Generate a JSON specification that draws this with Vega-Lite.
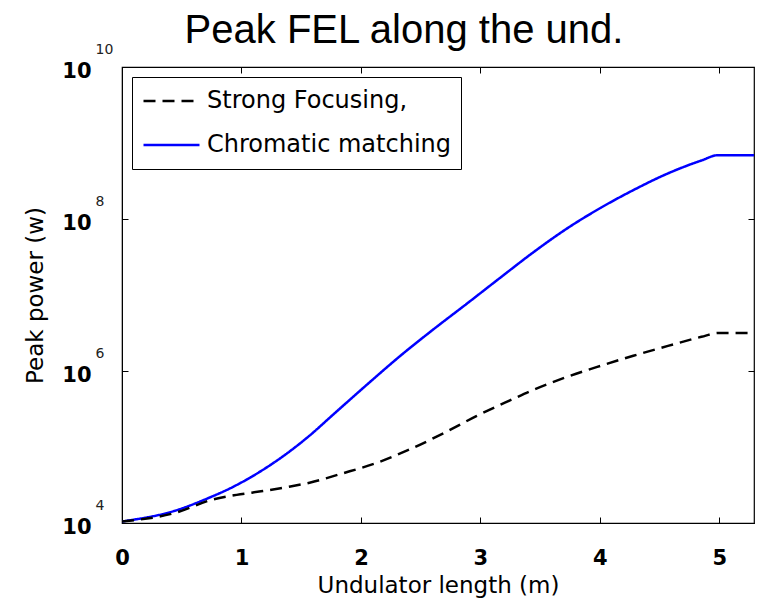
{
  "$schema": "https://vega.github.io/schema/vega-lite/v6.json",
  "width": 632,
  "height": 456,
  "autosize": {"type": "none"},
  "padding": {"left": 122, "top": 67, "right": 4, "bottom": 78},
  "background": "white",
  "title": {"text": "Peak FEL along the und.", "font": "Liberation Sans", "fontSize": 40, "fontWeight": "normal", "anchor": "middle", "dx": -34, "offset": -9, "color": "black"},
  "config": {
    "view": {"stroke": "black", "strokeWidth": 1.2},
    "axis": {"grid": false, "domainColor": "black", "tickColor": "black", "labelColor": "black", "titleColor": "black", "labelFont": "DejaVu Sans", "titleFont": "DejaVu Sans", "labelFlush": false, "labelOverlap": false}
  },
  "data": {"values": [
    {"series": "Chromatic matching", "length": 0, "power": 10471},
    {"series": "Chromatic matching", "length": 0.46, "power": 14791},
    {"series": "Chromatic matching", "length": 0.68, "power": 19953},
    {"series": "Chromatic matching", "length": 0.96, "power": 31623},
    {"series": "Chromatic matching", "length": 1.18, "power": 50119},
    {"series": "Chromatic matching", "length": 1.41, "power": 89125},
    {"series": "Chromatic matching", "length": 1.57, "power": 141254},
    {"series": "Chromatic matching", "length": 1.77, "power": 269153},
    {"series": "Chromatic matching", "length": 2.05, "power": 660693},
    {"series": "Chromatic matching", "length": 2.33, "power": 1584893},
    {"series": "Chromatic matching", "length": 2.6, "power": 3467369},
    {"series": "Chromatic matching", "length": 2.89, "power": 7762471},
    {"series": "Chromatic matching", "length": 3.16, "power": 16595869},
    {"series": "Chromatic matching", "length": 3.45, "power": 37153523},
    {"series": "Chromatic matching", "length": 3.72, "power": 74131024},
    {"series": "Chromatic matching", "length": 4.01, "power": 141253754},
    {"series": "Chromatic matching", "length": 4.28, "power": 239883292},
    {"series": "Chromatic matching", "length": 4.57, "power": 398107171},
    {"series": "Chromatic matching", "length": 4.85, "power": 588843655},
    {"series": "Chromatic matching", "length": 4.99, "power": 691830971},
    {"series": "Chromatic matching", "length": 5.29, "power": 691830971},
    {"series": "Strong Focusing,", "length": 0, "power": 10471},
    {"series": "Strong Focusing,", "length": 0.46, "power": 13804},
    {"series": "Strong Focusing,", "length": 0.74, "power": 19953},
    {"series": "Strong Focusing,", "length": 0.96, "power": 23442},
    {"series": "Strong Focusing,", "length": 1.18, "power": 26303},
    {"series": "Strong Focusing,", "length": 1.41, "power": 30200},
    {"series": "Strong Focusing,", "length": 1.57, "power": 33884},
    {"series": "Strong Focusing,", "length": 1.84, "power": 44668},
    {"series": "Strong Focusing,", "length": 2.13, "power": 61660},
    {"series": "Strong Focusing,", "length": 2.41, "power": 93325},
    {"series": "Strong Focusing,", "length": 2.69, "power": 151356},
    {"series": "Strong Focusing,", "length": 2.97, "power": 257040},
    {"series": "Strong Focusing,", "length": 3.27, "power": 426580},
    {"series": "Strong Focusing,", "length": 3.41, "power": 537032},
    {"series": "Strong Focusing,", "length": 3.72, "power": 831764},
    {"series": "Strong Focusing,", "length": 4.01, "power": 1174898},
    {"series": "Strong Focusing,", "length": 4.28, "power": 1584893},
    {"series": "Strong Focusing,", "length": 4.57, "power": 2137962},
    {"series": "Strong Focusing,", "length": 4.85, "power": 2818383},
    {"series": "Strong Focusing,", "length": 4.99, "power": 3162278},
    {"series": "Strong Focusing,", "length": 5.29, "power": 3162278}
  ]},
  "layer": [
    {
      "mark": {"type": "line", "strokeWidth": 2.5, "clip": true, "interpolate": "monotone"},
      "encoding": {
        "x": {"field": "length", "type": "quantitative", "scale": {"domain": [0, 5.29], "nice": false, "zero": false},
          "axis": {"title": "Undulator length (m)", "values": [0, 1, 2, 3, 4, 5], "format": "d", "labelFontSize": 21, "labelFontWeight": "bold", "tickSize": -6, "labelPadding": 30, "titleFontSize": 23, "titleFontWeight": "normal", "titlePadding": 6}},
        "y": {"field": "power", "type": "quantitative", "scale": {"type": "log", "domain": [10000, 10000000000], "nice": false},
          "axis": {"title": "Peak power (w)", "values": [10000, 1000000, 100000000, 10000000000], "labelExpr": "'10'", "labelFontSize": 21, "labelFontWeight": "bold", "labelBaseline": "middle", "labelOffset": 4, "tickSize": -6, "labelPadding": 37, "titleFontSize": 23, "titleFontWeight": "normal", "titlePadding": 14}},
        "stroke": {"field": "series", "type": "nominal", "scale": {"domain": ["Strong Focusing,", "Chromatic matching"], "range": ["black", "#0000ff"]},
          "legend": {"title": null, "orient": "top-left", "offset": 10, "padding": 10, "strokeColor": "black", "fillColor": "white", "labelFont": "DejaVu Sans", "labelFontSize": 24, "labelLimit": 500, "labelColor": "black", "symbolType": "stroke", "symbolSize": 3136, "symbolStrokeWidth": 2.5, "labelOffset": 6, "clipHeight": 28, "rowPadding": 16}},
        "strokeDash": {"field": "series", "type": "nominal", "scale": {"domain": ["Strong Focusing,", "Chromatic matching"], "range": [[12, 7], [1, 0]]},
          "legend": {"title": null, "orient": "top-left", "offset": 10, "padding": 10, "strokeColor": "black", "fillColor": "white", "labelFont": "DejaVu Sans", "labelFontSize": 24, "labelLimit": 500, "labelColor": "black", "symbolType": "stroke", "symbolSize": 3136, "symbolStrokeWidth": 2.5, "labelOffset": 6, "clipHeight": 28, "rowPadding": 16}}
      }
    },
    {
      "mark": {"type": "point", "opacity": 0},
      "encoding": {
        "x": {"field": "length", "type": "quantitative", "axis": {"orient": "top", "title": null, "values": [0, 1, 2, 3, 4, 5], "labels": false, "domain": false, "tickSize": -6}},
        "y": {"field": "power", "type": "quantitative", "axis": {"orient": "left", "title": null, "values": [10000, 1000000, 100000000, 10000000000], "labelExpr": "format(round(log(datum.value)/LN10),'d')", "labelAlign": "left", "labelBaseline": "middle", "labelOffset": -18, "labelFontSize": 14, "labelColor": "#222222", "ticks": false, "tickSize": 0, "domain": false, "labelPadding": 27}}
      }
    },
    {
      "mark": {"type": "point", "opacity": 0},
      "encoding": {
        "x": {"field": "length", "type": "quantitative", "axis": null},
        "y": {"field": "power", "type": "quantitative", "axis": {"orient": "right", "title": null, "values": [10000, 1000000, 100000000, 10000000000], "labels": false, "domain": false, "tickSize": -6}}
      }
    }
  ],
  "resolve": {"axis": {"x": "independent", "y": "independent"}}
}
